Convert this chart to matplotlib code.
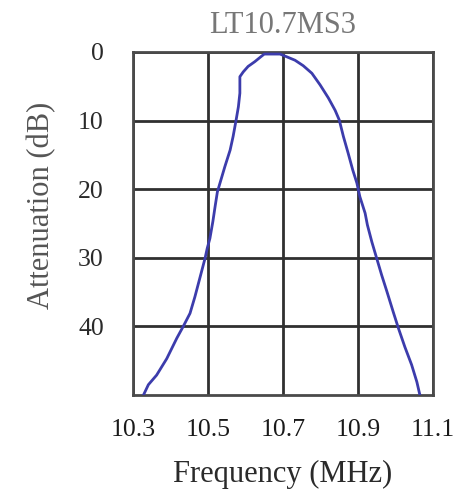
import matplotlib
matplotlib.use("Agg")
import matplotlib.pyplot as plt

# frequency response
freq_mhz = [10.328, 10.341, 10.363, 10.390, 10.417, 10.434, 10.452, 10.465,
            10.479, 10.492, 10.498, 10.505, 10.513, 10.519, 10.525, 10.532,
            10.545, 10.559, 10.567, 10.575, 10.581, 10.585, 10.585, 10.594,
            10.607, 10.625, 10.643, 10.650, 10.692, 10.710, 10.732, 10.754,
            10.777, 10.799, 10.821, 10.839, 10.850, 10.861, 10.874, 10.886,
            10.897, 10.905, 10.919, 10.925, 10.937, 10.950, 10.963, 10.977,
            10.994, 11.008, 11.025, 11.043, 11.057, 11.065]
atten_db = [50.0, 48.5, 47.1, 44.7, 41.7, 40.0, 38.1, 35.7,
            32.8, 30.1, 28.6, 27.2, 24.7, 22.5, 20.4, 19.1,
            16.7, 14.3, 12.3, 9.9, 8.0, 6.0, 3.6, 2.9,
            2.1, 1.4, 0.6, 0.3, 0.3, 0.7, 1.2, 2.0,
            3.1, 4.8, 6.7, 8.5, 9.9, 12.3, 14.8, 17.2,
            19.1, 21.1, 23.5, 25.2, 27.7, 30.1, 32.5, 34.9,
            37.9, 40.3, 43.0, 45.6, 48.1, 50.0]

x_ticks = [10.3, 10.5, 10.7, 10.9, 11.1]
x_labels = ["10.3", "10.5", "10.7", "10.9", "11.1"]
y_ticks = [0, 10, 20, 30, 40]
y_labels = ["0", "10", "20", "30", "40"]

serif = ["Liberation Serif", "DejaVu Serif"]

fig = plt.figure(figsize=(4.67, 4.93), dpi=100)
ax = fig.add_axes([133 / 467, 98 / 493, 300 / 467, 343 / 493])

ax.plot(freq_mhz, atten_db, color="#3c3cac", lw=2.0, zorder=3,
        solid_joinstyle="round")

ax.set_xlim(10.3, 11.1)
ax.set_ylim(50, 0)
ax.set_xticks(x_ticks)
ax.set_xticklabels(x_labels, family=serif, fontsize=18.5, color="#1a1a1a")
ax.set_yticks(y_ticks)
ax.set_yticklabels(y_labels, family=serif, fontsize=18.5, color="#2a2a2a")
ax.tick_params(length=0)
ax.tick_params(axis="x", pad=17)
ax.tick_params(axis="y", pad=21)

ax.grid(True, color="#303030", lw=2.0)
for s in ax.spines.values():
    s.set_color("#4a4a4a")
    s.set_linewidth(2.0)

ax.set_title("LT10.7MS3", family=serif, fontsize=22, color="#777777", pad=14)
ax.set_xlabel("Frequency (MHz)", family=serif, fontsize=22, color="#2a2a2a",
              labelpad=14)
ax.set_ylabel("Attenuation (dB)", family=serif, fontsize=22, color="#555555")
ax.yaxis.set_label_coords(-0.255, 0.554)

fig.savefig("out.png", dpi=100)
